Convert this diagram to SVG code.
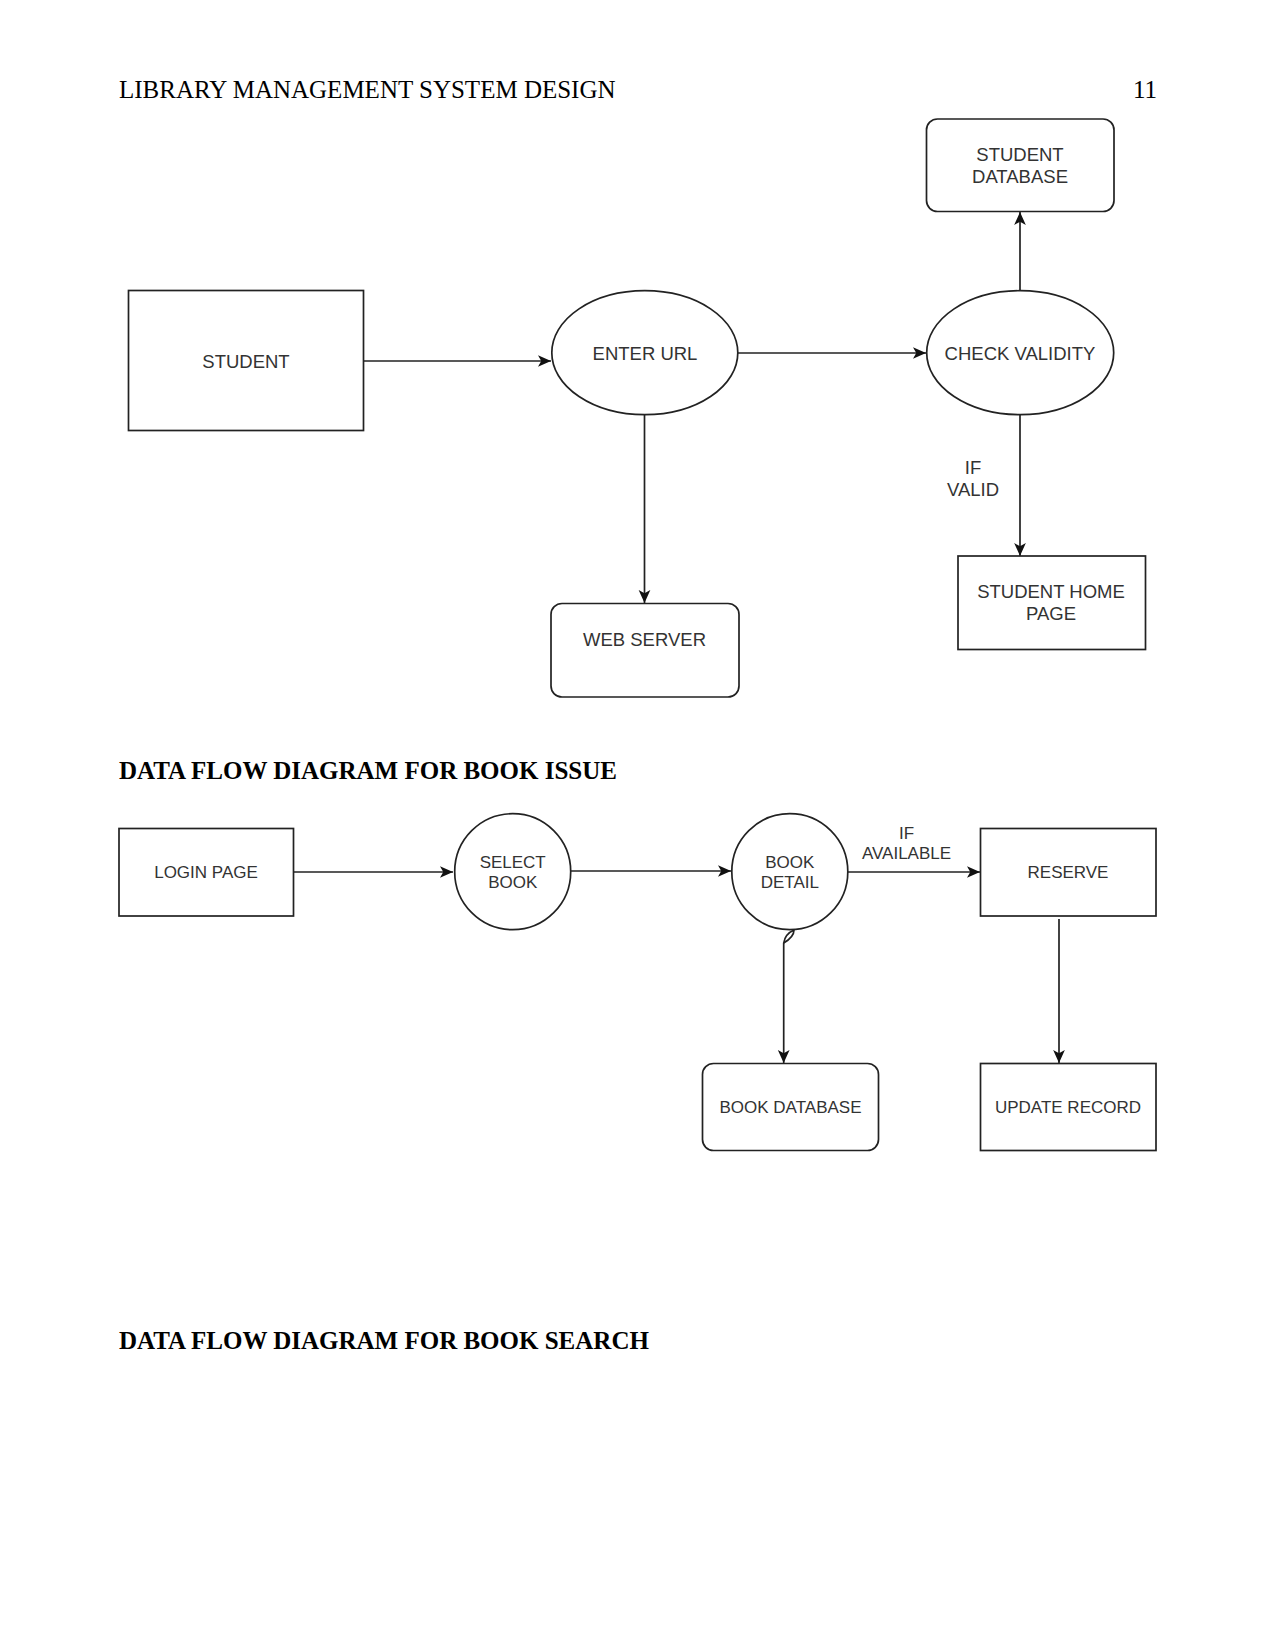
<svg xmlns="http://www.w3.org/2000/svg" width="1275" height="1651" viewBox="0 0 1275 1651">
<style>
.page{font-family:"Liberation Serif","Times New Roman",serif;font-size:25px;fill:#000}
.bold{font-weight:bold}
.shape{fill:#fff;stroke:#222;stroke-width:1.7}
.lbl{font-family:"Liberation Sans",Arial,sans-serif;fill:#333;text-anchor:middle}
.l1{font-size:18.5px}
.l2{font-size:17px}
.edge{fill:none;stroke:#222;stroke-width:1.7}
</style>
<defs>
<marker id="arr" viewBox="0 0 10 10" refX="10" refY="5" markerWidth="13" markerHeight="13" markerUnits="userSpaceOnUse" orient="auto">
<path d="M0,0.5 L10,5 L0,9.5 L2.5,5 Z" fill="#111"/>
</marker>
</defs>
<rect width="1275" height="1651" fill="#fff"/>
<text class="page" x="119" y="98">LIBRARY MANAGEMENT SYSTEM DESIGN</text>
<text class="page" x="1157" y="98" text-anchor="end">11</text>
<text class="page bold" x="119" y="779">DATA FLOW DIAGRAM FOR BOOK ISSUE</text>
<text class="page bold" x="119" y="1349">DATA FLOW DIAGRAM FOR BOOK SEARCH</text>

<g id="connectors">
<line class="edge" x1="363" y1="361" x2="551" y2="361" marker-end="url(#arr)"/>
<line class="edge" x1="738" y1="353" x2="926" y2="353" marker-end="url(#arr)"/>
<line class="edge" x1="1020" y1="290" x2="1020" y2="212" marker-end="url(#arr)"/>
<line class="edge" x1="1020" y1="415" x2="1020" y2="556" marker-end="url(#arr)"/>
<line class="edge" x1="644.5" y1="415" x2="644.5" y2="603" marker-end="url(#arr)"/>
<text class="lbl l1" x="973" y="474">IF</text>
<text class="lbl l1" x="973" y="496">VALID</text>
<line class="edge" x1="294" y1="872" x2="453" y2="872" marker-end="url(#arr)"/>
<line class="edge" x1="571" y1="871" x2="731" y2="871" marker-end="url(#arr)"/>
<line class="edge" x1="848" y1="872" x2="980" y2="872" marker-end="url(#arr)"/>
<text class="lbl l2" x="906.5" y="839">IF</text>
<text class="lbl l2" x="906.5" y="859">AVAILABLE</text>
<path class="edge" d="M783.7,943 L783.7,1063" marker-end="url(#arr)"/>
<path class="edge" d="M783.7,943 Q785,934 794,930 Q794,937 783.7,943" stroke-width="1.2"/>
<line class="edge" x1="1059" y1="919" x2="1059" y2="1063" marker-end="url(#arr)"/>
</g>

<g id="student-database">
<rect class="shape" x="926.5" y="119" width="187.5" height="92.5" rx="11"/>
<text class="lbl l1" x="1020" y="161">STUDENT</text>
<text class="lbl l1" x="1020" y="183">DATABASE</text>
</g>
<g id="student">
<rect class="shape" x="128.5" y="290.5" width="235" height="140"/>
<text class="lbl l1" x="246" y="368">STUDENT</text>
</g>
<g id="enter-url">
<ellipse class="shape" cx="644.8" cy="352.7" rx="93" ry="62"/>
<text class="lbl l1" x="645" y="360">ENTER URL</text>
</g>
<g id="check-validity">
<ellipse class="shape" cx="1020.2" cy="352.7" rx="93.5" ry="62"/>
<text class="lbl l1" x="1020" y="360">CHECK VALIDITY</text>
</g>
<g id="student-home-page">
<rect class="shape" x="958" y="556" width="187.5" height="93.5"/>
<text class="lbl l1" x="1051" y="598">STUDENT HOME</text>
<text class="lbl l1" x="1051" y="620">PAGE</text>
</g>
<g id="web-server">
<rect class="shape" x="551" y="603.5" width="188" height="93.5" rx="11"/>
<text class="lbl l1" x="644.5" y="646">WEB SERVER</text>
</g>

<g id="login-page">
<rect class="shape" x="119" y="828.5" width="174.5" height="87.5"/>
<text class="lbl l2" x="206" y="878">LOGIN PAGE</text>
</g>
<g id="select-book">
<circle class="shape" cx="512.7" cy="871.7" r="58"/>
<text class="lbl l2" x="512.7" y="868">SELECT</text>
<text class="lbl l2" x="512.7" y="888">BOOK</text>
</g>
<g id="book-detail">
<circle class="shape" cx="789.8" cy="871.7" r="58"/>
<text class="lbl l2" x="789.8" y="868">BOOK</text>
<text class="lbl l2" x="789.8" y="888">DETAIL</text>
</g>
<g id="reserve">
<rect class="shape" x="980.5" y="828.5" width="175.5" height="87.5"/>
<text class="lbl l2" x="1068" y="878">RESERVE</text>
</g>
<g id="book-database">
<rect class="shape" x="702.5" y="1063.5" width="176" height="87" rx="11"/>
<text class="lbl l2" x="790.5" y="1113">BOOK DATABASE</text>
</g>
<g id="update-record">
<rect class="shape" x="980.5" y="1063.5" width="175.5" height="87"/>
<text class="lbl l2" x="1068" y="1113">UPDATE RECORD</text>
</g>
</svg>
